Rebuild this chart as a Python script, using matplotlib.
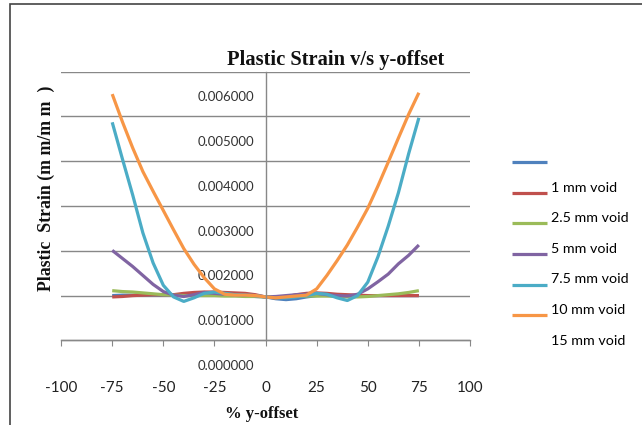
import numpy as np
import matplotlib
matplotlib.use("Agg")
import matplotlib.pyplot as plt
from matplotlib.lines import Line2D
from matplotlib.patches import Rectangle
from matplotlib.legend_handler import HandlerLine2D

# % y-offset
offset = [-75, -70, -65, -60, -55, -50, -45, -40, -35, -30, -25, -20, -15, -10, -5, 0,
          5, 10, 15, 20, 25, 30, 35, 40, 45, 50, 55, 60, 65, 70, 75]

# plastic strain (mm/mm)
s_blue = [0.00155, 0.00156, 0.00156, 0.00157, 0.00157, 0.00157, 0.00156, 0.00156, 0.00157, 0.00158,
          0.00158, 0.00157, 0.00156, 0.00155, 0.00153, 0.00152, 0.00148, 0.00146, 0.00148, 0.00152,
          0.00155, 0.00156, 0.00156, 0.00155, 0.00155, 0.00155, 0.00155, 0.00155, 0.00155, 0.00155, 0.00155]
s_red = [0.00152, 0.00153, 0.00155, 0.00156, 0.00157, 0.00157, 0.00157, 0.00160, 0.00162, 0.00163,
         0.00163, 0.00162, 0.00161, 0.00160, 0.00157, 0.00152, 0.00150, 0.00152, 0.00157, 0.00160,
         0.00161, 0.00160, 0.00158, 0.00157, 0.00156, 0.00155, 0.00155, 0.00155, 0.00155, 0.00155, 0.00155]
s_green = [0.00166, 0.00164, 0.00163, 0.00161, 0.00159, 0.00157, 0.00156, 0.00155, 0.00155, 0.00155,
           0.00155, 0.00154, 0.00154, 0.00153, 0.00153, 0.00152, 0.00152, 0.00153, 0.00153, 0.00154,
           0.00154, 0.00154, 0.00153, 0.00152, 0.00152, 0.00153, 0.00155, 0.00157, 0.00159, 0.00162, 0.00166]
s_purple = [0.00256, 0.00238, 0.00220, 0.00200, 0.00180, 0.00164, 0.00156, 0.00153, 0.00157, 0.00162,
            0.00160, 0.00158, 0.00157, 0.00156, 0.00155, 0.00152, 0.00153, 0.00155, 0.00157, 0.00158,
            0.00160, 0.00157, 0.00155, 0.00154, 0.00158, 0.00170, 0.00186, 0.00203, 0.00226, 0.00245, 0.00268]
s_cyan = [0.00542, 0.00460, 0.00380, 0.00295, 0.00228, 0.00178, 0.00152, 0.00142, 0.00150, 0.00160,
          0.00163, 0.00160, 0.00157, 0.00156, 0.00155, 0.00152, 0.00150, 0.00150, 0.00152, 0.00155,
          0.00160, 0.00158, 0.00150, 0.00144, 0.00155, 0.00185, 0.00242, 0.00310, 0.00385, 0.00472, 0.00552]
s_orange = [0.00605, 0.00543, 0.00485, 0.00432, 0.00388, 0.00345, 0.00302, 0.00260, 0.00225, 0.00195,
            0.00170, 0.00158, 0.00156, 0.00156, 0.00155, 0.00152, 0.00150, 0.00152, 0.00154, 0.00156,
            0.00170, 0.00200, 0.00233, 0.00268, 0.00308, 0.00350, 0.00400, 0.00453, 0.00507, 0.00560, 0.00608]

series = [s_blue, s_red, s_green, s_purple, s_cyan, s_orange]
colors = ['#4F81BD', '#C0504D', '#9BBB59', '#8064A2', '#4BACC6', '#F79646']
legend_labels = ['', '1 mm void', '2.5 mm void', '5 mm void', '7.5 mm void', '10 mm void', '15 mm void']

label_ticks = [0.0, 0.001, 0.002, 0.003, 0.004, 0.005, 0.006]
grid_ticks = [0.00055, 0.00155, 0.00255, 0.00355, 0.00455, 0.00555, 0.00655]
x_ticks = [-100, -75, -50, -25, 0, 25, 50, 75, 100]


class LowLine(HandlerLine2D):
    # legend lines sit a bit below their text
    def create_artists(self, legend, orig_handle, xdescent, ydescent, width, height, fontsize, trans):
        arts = super().create_artists(legend, orig_handle, xdescent, ydescent, width, height, fontsize, trans)
        for a in arts:
            a.set_ydata(np.asarray(a.get_ydata()) - 4.5)
        return arts


fig = plt.figure(figsize=(6.42, 4.25), dpi=100)
ax = fig.add_axes([61.1 / 642, 60 / 425, 408.9 / 642, 293.3 / 425])

lines = []
for s, c in zip(series, colors):
    ln, = ax.plot(offset, s, color=c, lw=2.3, solid_capstyle='butt', solid_joinstyle='round')
    lines.append(ln)

ax.set_xlim(-100, 100)
ax.set_ylim(0, 0.00655)

for k in ['top', 'right']:
    ax.spines[k].set_visible(False)
ax.spines['left'].set_position(('data', 0))
ax.spines['left'].set_bounds(0.00055, 0.00655)
ax.spines['bottom'].set_position(('data', 0.00055))
ax.spines['bottom'].set_bounds(-100, 100)
for k in ['left', 'bottom']:
    ax.spines[k].set_color('#888888')
    ax.spines[k].set_linewidth(1)

ax.set_yticks(grid_ticks)
ax.set_yticklabels([])
ax.set_yticks(label_ticks, minor=True)
ax.set_yticklabels(['%.6f' % v for v in label_ticks], minor=True, fontsize=9.5,
                   family='Lato', color='#333333')
ax.tick_params(axis='y', which='both', length=0, pad=8)
ax.yaxis.grid(True, which='major', color='#888888', lw=1)
ax.set_axisbelow(True)

ax.set_xticks(x_ticks)
ax.set_xticklabels([str(v) for v in x_ticks], fontsize=11, family='Lato', color='#222222')
ax.tick_params(axis='x', direction='out', length=4, color='#888888', pad=25)

handles = lines + [Line2D([], [], color='none')]
ax.legend(handles, legend_labels, handler_map={Line2D: LowLine()},
          loc='upper left', bbox_to_anchor=(512 / 642, 1 - 151 / 425), bbox_transform=fig.transFigure,
          frameon=False, borderpad=0, borderaxespad=0, handlelength=2.45, handletextpad=0.3,
          labelspacing=1.3, prop={'family': 'Lato', 'size': 10.3})

fig.text(336 / 642, 1 - 60 / 425, 'Plastic Strain v/s y-offset', ha='center', va='center',
         family='Liberation Serif', weight='bold', fontsize=14.8, color='#111111')
fig.text(46 / 642, 1 - 188 / 425, 'Plastic  Strain (m m/m m  )', ha='center', va='center',
         rotation=90, family='Liberation Serif', weight='bold', fontsize=12.8, color='#111111')
fig.text(262 / 642, 1 - 414 / 425, '% y-offset', ha='center', va='center',
         family='Liberation Serif', weight='bold', fontsize=12, color='#111111')

fig.add_artist(Rectangle((10 / 642, -0.02), 1.0, (425 - 4) / 425 + 0.02, transform=fig.transFigure,
                         fill=False, edgecolor='#444444', lw=1.2))

fig.savefig('out.png', dpi=100)
